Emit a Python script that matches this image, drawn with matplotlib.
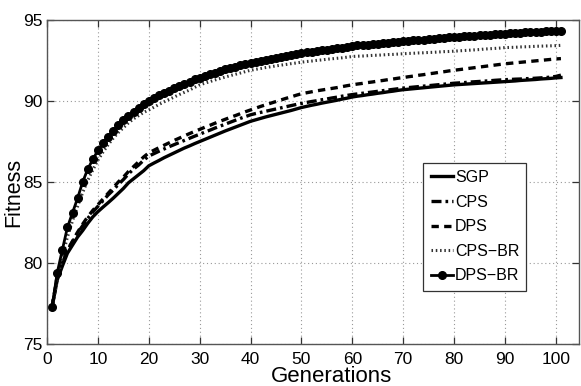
import numpy as np
import matplotlib
matplotlib.use("Agg")
import matplotlib.pyplot as plt

plt.rcParams['font.family'] = ['Liberation Sans', 'DejaVu Sans']

generations = list(range(1, 102))

sgp = [77.3, 78.95, 79.8, 80.6, 81.1, 81.6, 82.0, 82.45, 82.85, 83.17,
       83.45, 83.72, 84.0, 84.3, 84.6, 84.95, 85.2, 85.45, 85.7, 86.0,
       86.17, 86.33, 86.5, 86.65, 86.8, 86.95, 87.1, 87.23, 87.37, 87.5,
       87.63, 87.76, 87.89, 88.02, 88.15, 88.27, 88.39, 88.51, 88.63, 88.75,
       88.84, 88.93, 89.02, 89.1, 89.18, 89.26, 89.34, 89.42, 89.51, 89.6,
       89.67, 89.74, 89.8, 89.87, 89.93, 89.99, 90.05, 90.12, 90.18, 90.25,
       90.3, 90.34, 90.39, 90.43, 90.48, 90.52, 90.57, 90.61, 90.66, 90.7,
       90.73, 90.76, 90.79, 90.82, 90.85, 90.88, 90.91, 90.94, 90.97, 91.0,
       91.02, 91.04, 91.06, 91.08, 91.1, 91.12, 91.14, 91.16, 91.18, 91.2,
       91.22, 91.24, 91.27, 91.29, 91.31, 91.33, 91.36, 91.38, 91.4, 91.43,
       91.45]

cps = [77.3, 79.1, 80.0, 80.75, 81.3, 81.85, 82.3, 82.75, 83.15, 83.5,
       83.85, 84.2, 84.5, 84.85, 85.15, 85.5, 85.8, 86.05, 86.35, 86.6,
       86.75, 86.9, 87.04, 87.18, 87.31, 87.44, 87.57, 87.7, 87.83, 87.95,
       88.08, 88.2, 88.33, 88.45, 88.57, 88.69, 88.81, 88.93, 89.04, 89.15,
       89.23, 89.3, 89.37, 89.44, 89.51, 89.58, 89.65, 89.72, 89.79, 89.85,
       89.91, 89.97, 90.02, 90.08, 90.13, 90.19, 90.24, 90.3, 90.35, 90.4,
       90.44, 90.48, 90.52, 90.56, 90.6, 90.64, 90.68, 90.72, 90.76, 90.8,
       90.83, 90.86, 90.89, 90.92, 90.95, 90.98, 91.01, 91.04, 91.07, 91.1,
       91.12, 91.14, 91.17, 91.19, 91.21, 91.23, 91.25, 91.28, 91.3, 91.32,
       91.33, 91.35, 91.36, 91.38, 91.39, 91.41, 91.43, 91.45, 91.48, 91.52,
       91.6]

dps = [77.3, 79.2, 80.05, 80.8, 81.35, 81.9, 82.4, 82.85, 83.25, 83.6,
       83.95, 84.3, 84.65, 85.0, 85.3, 85.65, 85.95, 86.25, 86.55, 86.8,
       86.96, 87.12, 87.27, 87.42, 87.57, 87.71, 87.85, 87.99, 88.12, 88.25,
       88.38, 88.5, 88.63, 88.75, 88.87, 88.99, 89.1, 89.22, 89.34, 89.45,
       89.56, 89.67, 89.77, 89.87, 89.97, 90.07, 90.17, 90.26, 90.36, 90.45,
       90.51, 90.57, 90.63, 90.68, 90.73, 90.78, 90.83, 90.89, 90.95, 91.0,
       91.05, 91.09, 91.14, 91.18, 91.23, 91.27, 91.32, 91.36, 91.41, 91.45,
       91.5, 91.54, 91.59, 91.63, 91.68, 91.72, 91.77, 91.81, 91.86, 91.9,
       91.94, 91.98, 92.02, 92.06, 92.1, 92.14, 92.18, 92.22, 92.26, 92.3,
       92.33, 92.36, 92.39, 92.42, 92.45, 92.48, 92.51, 92.54, 92.57, 92.6,
       92.62]

cps_br = [77.3, 78.9, 80.4, 81.6, 82.6, 83.5, 84.35, 85.1, 85.75, 86.35,
          86.85, 87.3, 87.7, 88.05, 88.35, 88.65, 88.9, 89.1, 89.3, 89.45,
          89.62, 89.79, 89.95, 90.1, 90.25, 90.4, 90.54, 90.68, 90.84, 91.0,
          91.1, 91.2, 91.3, 91.39, 91.48, 91.57, 91.65, 91.73, 91.82, 91.9,
          91.96, 92.01, 92.07, 92.12, 92.17, 92.22, 92.26, 92.31, 92.35, 92.4,
          92.44, 92.47, 92.51, 92.54, 92.58, 92.61, 92.64, 92.67, 92.71, 92.75,
          92.77, 92.78, 92.8, 92.82, 92.83, 92.85, 92.87, 92.88, 92.9, 92.92,
          92.94, 92.95, 92.97, 92.98, 93.0, 93.01, 93.03, 93.05, 93.06, 93.08,
          93.1, 93.12, 93.14, 93.16, 93.18, 93.21, 93.23, 93.25, 93.27, 93.3,
          93.31, 93.32, 93.34, 93.35, 93.36, 93.38, 93.39, 93.4, 93.41, 93.42,
          93.44]

dps_br = [77.3, 79.4, 80.8, 82.2, 83.1, 84.0, 85.0, 85.8, 86.4, 86.95,
          87.4, 87.8, 88.15, 88.5, 88.85, 89.1, 89.35, 89.55, 89.8, 90.0,
          90.18, 90.35, 90.5, 90.65, 90.8, 90.93, 91.06, 91.2, 91.33, 91.45,
          91.56, 91.66, 91.76, 91.86, 91.95, 92.04, 92.12, 92.2, 92.28, 92.35,
          92.42, 92.49, 92.55, 92.61, 92.67, 92.73, 92.79, 92.85, 92.9, 92.95,
          93.0, 93.05, 93.1, 93.14, 93.18, 93.22, 93.26, 93.3, 93.35, 93.4,
          93.43, 93.46, 93.49, 93.52, 93.55, 93.58, 93.61, 93.64, 93.67, 93.7,
          93.72, 93.75, 93.77, 93.8, 93.82, 93.85, 93.88, 93.9, 93.93, 93.95,
          93.97, 93.99, 94.01, 94.04, 94.06, 94.08, 94.1, 94.12, 94.15, 94.17,
          94.19, 94.21, 94.22, 94.24, 94.26, 94.27, 94.29, 94.3, 94.32, 94.34,
          94.35]

x_ticks = [0, 10, 20, 30, 40, 50, 60, 70, 80, 90, 100]
y_ticks = [75, 80, 85, 90, 95]

fig = plt.figure(figsize=(5.81, 3.86), dpi=100)
ax = fig.add_axes([0.081, 0.109, 0.916, 0.839])

ax.plot(generations, sgp, color='black', lw=2.4, ls='-', label='SGP')
ax.plot(generations, cps, color='black', lw=2.4, ls=(0, (3, 1.2, 0.8, 1.2)), label='CPS')
ax.plot(generations, dps, color='black', lw=2.4, ls=(0, (2.2, 1.6)), label='DPS')
ax.plot(generations, cps_br, color='#333333', lw=2.2, ls=(0, (0.5, 0.9)), label='CPS\u2212BR')
ax.plot(generations, dps_br, color='black', lw=2.0, ls='-', marker='o',
        markersize=5.5, markerfacecolor='black', markeredgecolor='black', label='DPS\u2212BR')

ax.set_xlim(0, 104.6)
ax.set_ylim(75, 95)
ax.set_xticks(x_ticks)
ax.set_yticks(y_ticks)
ax.grid(True, color='#999999', ls=(0, (1, 2.5)), lw=0.8)
ax.tick_params(direction='in', length=5, width=0.9, top=True, right=True,
               labelsize=12.5, colors='#333333', labelcolor='black')
ax.tick_params(axis='x', pad=6)
ax.tick_params(axis='y', pad=3)
for s in ax.spines.values():
    s.set_color('#555555')
    s.set_linewidth(1.0)

ax.set_xlabel('Generations', fontsize=16)
ax.set_ylabel('Fitness', fontsize=15.5)
ax.xaxis.set_label_coords(0.534, -0.068)
ax.yaxis.set_label_coords(-0.043, 0.469)

leg = ax.legend(loc='upper left', bbox_to_anchor=(0.707, 0.559), borderaxespad=0,
                fontsize=11.5, handlelength=1.4, handletextpad=0.12, labelspacing=0.6,
                borderpad=0.45, fancybox=False, framealpha=1, edgecolor='#333333')
leg.get_frame().set_linewidth(0.9)

fig.savefig('out.png', dpi=100)
